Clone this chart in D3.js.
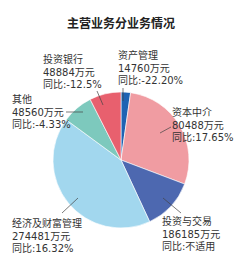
<!DOCTYPE html>
<html>
<head>
<meta charset="utf-8">
<script src="https://cdn.jsdelivr.net/npm/d3@7"></script>
<style>
  body { margin: 0; background: #fff; }
  text { font-family: "DejaVu Sans", "Noto Sans CJK SC", sans-serif; }
</style>
</head>
<body>
<svg id="chart" width="243" height="269"></svg>
<script>
// business segments (label order as printed)
var categories = ["资产管理", "资本中介", "投资与交易", "经济及财富管理", "其他", "投资银行"];
var revenue = [14760, 80488, 186185, 274481, 48560, 48884]; // 万元
var yoy = ["-22.20%", "17.65%", "不适用", "16.32%", "-4.33%", "-12.5%"];

// slice sizes as drawn in the graphic (clockwise from 12 o'clock)
var sliceValues = [14760, 186185, 80488, 274481, 48560, 48884];
var sliceColors = ["#1f63b3", "#f09ca2", "#4d68b0", "#a2d7ee", "#7dc9bd", "#e8606e"];

var svg = d3.select("#chart");
var cx = 121, cy = 160, radius = 68;

// title
svg.append("text")
  .attr("x", 121)
  .attr("y", 28)
  .attr("text-anchor", "middle")
  .attr("font-family", "Noto Sans CJK SC")
  .attr("font-size", "12px")
  .attr("font-weight", "bold")
  .attr("fill", "#222")
  .text("主营业务分业务情况");

var pie = d3.pie().sort(null).value(function (d) { return d; });
var arc = d3.arc().innerRadius(0).outerRadius(radius);

var g = svg.append("g").attr("transform", "translate(" + cx + "," + cy + ")");
g.selectAll("path")
  .data(pie(sliceValues))
  .enter()
  .append("path")
  .attr("d", arc)
  .attr("fill", function (d, i) { return sliceColors[i]; })
  .attr("stroke", "#fff")
  .attr("stroke-width", 0.6);

// label anchor (left x, first line y) and leader line per category
var labelLayout = {
  "资产管理": { x: 118, y: 59, line: [[123, 88], [123, 101]] },
  "资本中介": { x: 172, y: 116, line: [[160, 133], [171, 127]] },
  "投资与交易": { x: 162, y: 225, line: [[163, 198], [181, 213]] },
  "经济及财富管理": { x: 12, y: 227, line: [[62, 213], [78, 198]] },
  "其他": { x: 12, y: 103, line: [[66, 112], [83, 112]] },
  "投资银行": { x: 43, y: 63, line: [[97, 91], [103, 105]] }
};

categories.forEach(function (c, i) {
  var L = labelLayout[c];
  svg.append("line")
    .attr("x1", L.line[0][0]).attr("y1", L.line[0][1])
    .attr("x2", L.line[1][0]).attr("y2", L.line[1][1])
    .attr("stroke", "#444")
    .attr("stroke-width", 0.7);

  var lines = [c, revenue[i] + "万元", "同比:" + yoy[i]];
  var t = svg.append("text")
    .attr("font-size", "10px")
    .attr("fill", "#333");
  lines.forEach(function (s, k) {
    t.append("tspan")
      .attr("x", L.x)
      .attr("y", L.y + k * 12.5)
      .text(s);
  });
});
</script>
</body>
</html>
